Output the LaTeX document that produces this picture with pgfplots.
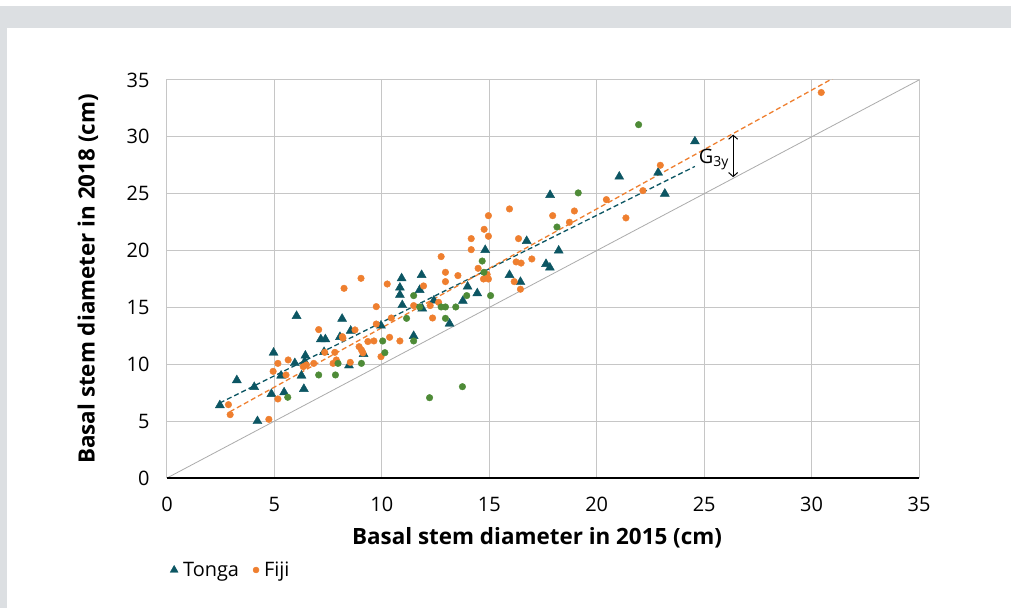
\documentclass[border=0pt]{standalone}
\usepackage{pgfplots}
\pgfplotsset{compat=1.18}
\usetikzlibrary{arrows.meta}
\usepackage{fontspec}
\setmainfont{Open Sans}

\definecolor{tongacol}{HTML}{0C5663}
\definecolor{fijicol}{HTML}{EF7F2F}
\definecolor{greencol}{HTML}{4E8B37}
\definecolor{gridcol}{HTML}{C6C6C6}
\definecolor{framecol}{HTML}{DCDFE2}

\begin{document}
\begin{tikzpicture}[x=1bp,y=1bp]
% panel and grey frame
\fill[white] (-167,-130) rectangle (844,478);
\fill[framecol] (-167,450) rectangle (844,472);
\fill[framecol] (-167,-130) rectangle (-160,450);

\begin{axis}[
    at={(0,0)}, anchor=south west,
    scale only axis, width=752bp, height=398bp,
    xmin=0, xmax=35, ymin=0, ymax=35,
    xtick={0,5,...,35}, ytick={0,5,...,35},
    grid=major, grid style={gridcol, line width=1bp},
    axis line style={gridcol, line width=1bp},
    major tick length=0pt,
    /pgf/number format/assume math mode=true,
    tick label style={font=\fontsize{20}{23}\selectfont},
    xticklabel style={anchor=center, yshift=-26.5bp},
    yticklabel style={anchor=east, xshift=-14bp},
    xlabel={Basal stem diameter in 2015 (cm)},
    ylabel={Basal stem diameter in 2018 (cm)},
    every axis x label/.style={at={([xshift=-6bp,yshift=-60bp]axis description cs:0.5,0)},
        anchor=center, font=\fontsize{22.5}{26}\selectfont\bfseries},
    every axis y label/.style={at={([xshift=-79bp]axis description cs:0,0.5)},
        anchor=center, rotate=90, font=\fontsize{22.5}{26}\selectfont\bfseries},
    legend image code/.code={\draw[#1] plot coordinates {(0bp,0bp)};},
    legend style={at={([yshift=-92bp]axis description cs:0,0)}, anchor=west,
        draw=none, fill=none, legend columns=-1,
        font=\fontsize{20}{23}\selectfont,
        /tikz/every odd column/.append style={column sep=3bp},
        /tikz/every even column/.append style={column sep=12bp}},
    legend cell align=left,
]

% 1:1 line
\addplot[forget plot, gray!65, line width=0.8bp] coordinates {(0,0) (35,35)};

% Tonga
\addplot[only marks, mark=triangle*, mark size=5.2bp, color=tongacol,
    legend image post style={mark size=4.6bp}]
coordinates {
(2.46,6.4) (3.25,8.6) (4.06,8.0) (4.21,5.0) (4.86,7.39) (4.96,11.02) (5.45,7.53)
(5.31,9.0) (5.95,10.1) (6.03,14.25) (6.26,9.0) (6.37,7.83) (6.44,10.76) (6.41,10.23)
(7.16,12.2) (7.37,12.2) (7.31,11.08) (8.15,14.0) (8.05,12.4) (8.47,9.9) (8.55,12.95)
(9.15,10.9) (9.96,13.4) (10.84,16.74) (10.92,17.56) (10.84,16.1) (10.95,15.2)
(11.76,16.53) (11.85,17.85) (11.88,14.9) (11.48,12.49) (12.42,15.6) (13.15,13.57)
(13.77,15.57) (13.99,16.83) (14.44,16.24) (14.81,20.05) (15.94,17.85) (16.45,17.24)
(16.74,20.84) (17.64,18.82) (17.82,18.5) (18.23,20.0) (17.83,24.89) (21.05,26.5)
(22.86,26.85) (23.17,25.0) (24.57,29.6)
};
\addlegendentry{Tonga}

% Fiji
\addplot[only marks, mark=*, mark size=3.3bp, color=fijicol,
    legend image post style={mark size=3bp}]
coordinates {
(2.86,6.45) (2.94,5.57) (4.74,5.16) (5.16,6.95) (5.16,10.08) (4.94,9.38) (5.54,9.06)
(5.64,10.38) (6.34,9.79) (6.49,9.94) (6.83,10.08) (7.06,13.05) (7.34,11.05) (7.81,11.05)
(7.88,10.38) (7.73,10.08) (8.16,12.43) (8.24,16.68) (8.53,10.17) (8.94,11.55)
(9.05,11.26) (9.12,11.0) (9.03,17.56) (9.74,15.07) (9.74,13.54) (10.25,17.06)
(10.44,14.07) (10.36,12.37) (10.84,12.05) (9.63,12.05) (9.35,12.0) (8.75,13.02)
(9.96,10.67) (8.19,12.3) (11.48,15.16) (11.94,16.89) (12.25,15.16) (12.64,15.45)
(12.36,14.07) (12.76,19.47) (12.96,18.09) (12.96,17.27) (13.54,17.8) (14.16,21.05)
(14.16,20.08) (14.48,18.44) (14.76,21.87) (14.96,23.07) (14.96,21.26) (14.73,17.5)
(14.96,17.5) (14.9,17.9) (15.94,23.66) (16.36,21.05) (16.25,19.0) (16.48,18.9)
(16.98,19.26) (16.16,17.27) (16.45,16.6) (17.95,23.07) (18.73,22.49) (18.96,23.48)
(20.45,24.48) (21.36,22.87) (22.15,25.27) (22.96,27.5) (30.45,33.9)
};
\addlegendentry{Fiji}

% third group (not in legend)
\addplot[forget plot, only marks, mark=*, mark size=3.3bp, color=greencol]
coordinates {
(5.62,7.1) (7.06,9.06) (7.84,9.06) (7.96,10.08) (9.05,10.08) (10.04,12.05)
(10.14,11.02) (11.48,12.05) (11.15,14.04) (11.48,16.04) (11.76,15.04) (12.76,15.04)
(12.96,15.04) (13.44,15.04) (12.96,14.04) (13.95,16.04) (14.67,19.08) (14.75,18.09)
(15.06,16.04) (18.15,22.07) (19.14,25.07) (21.95,31.07) (12.22,7.06) (13.75,8.03)
};

% trend lines
\addplot[forget plot, tongacol, line width=1.3bp, dash pattern=on 5bp off 3bp]
    coordinates {(2.46,6.6) (24.57,27.4)};
\addplot[forget plot, fijicol, line width=1.3bp, dash pattern=on 5bp off 3bp]
    coordinates {(2.93,5.83) (31.0,35.15)};

% growth annotation
\draw[{Straight Barb[length=4bp,width=9bp]}-{Straight Barb[length=4bp,width=9bp]}, black, line width=1bp]
    (axis cs:26.35,30.2) -- (axis cs:26.35,26.45);
\node[font=\fontsize{20}{23}\selectfont, inner sep=0pt] at (axis cs:25.45,28.0) {G\textsubscript{3y}};
\end{axis}

\draw[black, line width=1.6bp] (0,0) -- (752,0);

\pgfresetboundingbox
\useasboundingbox (-167,-130) rectangle (844,478);
\end{tikzpicture}
\end{document}
